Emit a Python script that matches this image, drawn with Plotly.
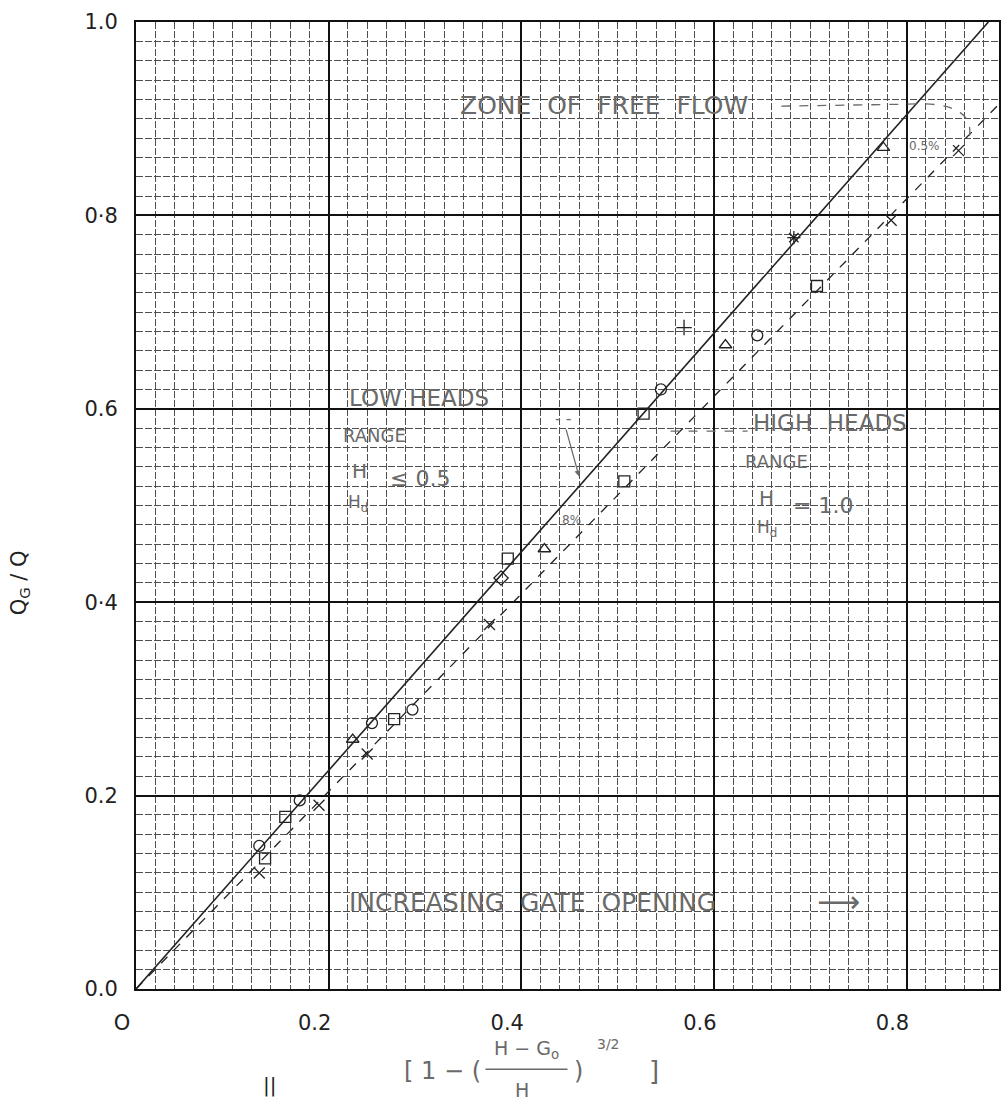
import plotly.graph_objects as go

# ---------------- data ----------------
low_line_x = [0.0, 0.885]          # low heads fitted line (solid)
low_line_y = [0.0, 1.0]
high_line_x = [0.0, 0.896]         # high heads fitted line (dashed)
high_line_y = [0.0, 0.915]

low_x = [0.128, 0.155, 0.170, 0.225, 0.245, 0.379, 0.386, 0.527, 0.545, 0.569, 0.683, 0.776]
low_y = [0.148, 0.178, 0.195, 0.258, 0.275, 0.425, 0.445, 0.595, 0.620, 0.684, 0.777, 0.870]
low_kind = ["circle", "square", "circle", "triangle", "circle", "diamond", "square",
            "square", "circle", "cross", "asterisk", "triangle"]

high_x = [0.128, 0.134, 0.190, 0.240, 0.268, 0.287, 0.367, 0.424, 0.507, 0.612, 0.645, 0.707, 0.784, 0.854]
high_y = [0.120, 0.135, 0.190, 0.243, 0.279, 0.289, 0.377, 0.455, 0.525, 0.666, 0.676, 0.727, 0.795, 0.867]
high_kind = ["x", "square", "x", "x", "square", "circle", "x", "triangle", "square",
             "triangle", "circle", "square", "x", "x"]

x_tick_vals = [0, 0.2, 0.4, 0.6, 0.8]
x_tick_text = ["O", "0.2", "0.4", "0.6", "0.8"]
y_tick_vals = [0, 0.2, 0.4, 0.6, 0.8, 1.0]
y_tick_text = ["0.0", "0.2", "0·4", "0.6", "0·8", "1.0"]

# ---------------- styling ----------------
SYM = {"circle": "circle-open", "square": "square-open", "triangle": "triangle-up-open",
       "diamond": "diamond-open", "x": "x-thin-open", "cross": "cross-thin-open",
       "asterisk": "asterisk-open"}
INK = "#222222"
FAINT = "#6a6a6a"
HAND = "DejaVu Sans"

fig = go.Figure()

fig.add_trace(go.Scatter(x=low_line_x, y=low_line_y, mode="lines",
                         line=dict(color=INK, width=1.6), showlegend=False, hoverinfo="skip"))
fig.add_trace(go.Scatter(x=high_line_x, y=high_line_y, mode="lines",
                         line=dict(color=INK, width=1.3, dash="dash"), showlegend=False, hoverinfo="skip"))
fig.add_trace(go.Scatter(x=low_x, y=low_y, mode="markers",
                         marker=dict(symbol=[SYM[k] for k in low_kind], size=11, color=INK,
                                     line=dict(width=1.3, color=INK)),
                         showlegend=False))
fig.add_trace(go.Scatter(x=high_x, y=high_y, mode="markers",
                         marker=dict(symbol=[SYM[k] for k in high_kind], size=11, color=INK,
                                     line=dict(width=1.3, color=INK)),
                         showlegend=False))

ann = []
def txt(x, y, t, size=19, color=FAINT, xanchor="left", xref="x", yref="y", angle=0):
    ann.append(dict(x=x, y=y, xref=xref, yref=yref, text=t, showarrow=False,
                    xanchor=xanchor, yanchor="middle", textangle=angle,
                    font=dict(family=HAND, size=size, color=color)))

# in-plot annotations
txt(0.334, 0.914, "ZONE  OF  FREE  FLOW", size=25)
txt(0.219, 0.611, "LOW HEADS", size=23)
txt(0.213, 0.572, "RANGE", size=18)
txt(0.222, 0.536, "H", size=20)
txt(0.218, 0.502, "H<sub>d</sub>", size=17)
txt(0.262, 0.528, "≤ 0.5", size=22)
txt(0.639, 0.585, "HIGH  HEADS", size=23)
txt(0.630, 0.546, "RANGE", size=18)
txt(0.645, 0.508, "H", size=20)
txt(0.643, 0.476, "H<sub>d</sub>", size=17)
txt(0.680, 0.500, "= 1.0", size=22)
txt(0.219, 0.089, "INCREASING  GATE  OPENING", size=25)
txt(0.705, 0.091, "⟶", size=30)
txt(0.44, 0.485, "8%", size=12)
txt(0.80, 0.872, "0.5%", size=12)

# curved leader from LOW HEADS to the solid line
ann.append(dict(x=0.46, y=0.530, ax=-16, ay=-58, xref="x", yref="y", showarrow=True,
                arrowhead=2, arrowsize=1, arrowwidth=1.2, arrowcolor=FAINT, text="- -",
                font=dict(family=HAND, size=16, color=FAINT)))

# axis titles
txt(-0.135, 0.42, "Q<sub>G</sub> / Q", size=21, color=INK, xanchor="center",
    xref="paper", yref="paper", angle=-90)
txt(0.355, -0.085, "[ 1 − (", size=24, color=FAINT, xanchor="center", xref="paper", yref="paper")
txt(0.452, -0.063, "H − G<sub>o</sub>", size=19, color=FAINT, xanchor="center", xref="paper", yref="paper")
txt(0.447, -0.104, "H", size=19, color=FAINT, xanchor="center", xref="paper", yref="paper")
txt(0.513, -0.085, ")", size=24, color=FAINT, xanchor="center", xref="paper", yref="paper")
txt(0.548, -0.057, "3/2", size=14, color=FAINT, xanchor="center", xref="paper", yref="paper")
txt(0.600, -0.085, "]", size=26, color=FAINT, xanchor="center", xref="paper", yref="paper")
txt(0.155, -0.099, "||", size=20, color=INK, xanchor="center", xref="paper", yref="paper")

shapes = [
    # fraction bar of x-axis title
    dict(type="line", xref="paper", yref="paper", x0=0.405, x1=0.50, y0=-0.083, y1=-0.083,
         line=dict(color=FAINT, width=1.3)),
    # leader from ZONE OF FREE FLOW and brace-like curve
    dict(type="path", xref="x", yref="y",
         path="M 0.67 0.913 L 0.80 0.915 C 0.85 0.918, 0.87 0.905, 0.865 0.880",
         line=dict(color=FAINT, width=1.3, dash="dash")),
    # HIGH HEADS leader dash
    dict(type="line", xref="x", yref="y", x0=0.555, x1=0.635, y0=0.577, y1=0.577,
         line=dict(color=FAINT, width=1.2, dash="dash")),
]

grid_minor = dict(dtick=0.02, tick0=0, showgrid=True, gridcolor="#4f4f4f",
                  gridwidth=1, griddash="7px,2px")

fig.update_layout(
    width=1001, height=1109,
    margin=dict(l=136, r=0, t=22, b=120),
    paper_bgcolor="white", plot_bgcolor="white",
    annotations=ann, shapes=shapes,
    font=dict(family=HAND, color=INK),
)

fig.update_xaxes(range=[0, 0.896], tickvals=x_tick_vals, ticktext=x_tick_text,
                 showgrid=True, gridcolor="#111111", gridwidth=2, minor=grid_minor,
                 showline=True, linecolor="#111111", linewidth=2, mirror=True,
                 zeroline=False, ticks="", ticklabelstandoff=14, ticklabelshift=-14,
                 tickfont=dict(family=HAND, size=21, color=INK))
fig.update_yaxes(range=[0, 1.0], tickvals=y_tick_vals, ticktext=y_tick_text,
                 showgrid=True, gridcolor="#111111", gridwidth=2, minor=grid_minor,
                 showline=True, linecolor="#111111", linewidth=2, mirror=True,
                 zeroline=False, ticks="", ticklabelstandoff=12,
                 tickfont=dict(family=HAND, size=21, color=INK))

fig.write_html("out.html")
